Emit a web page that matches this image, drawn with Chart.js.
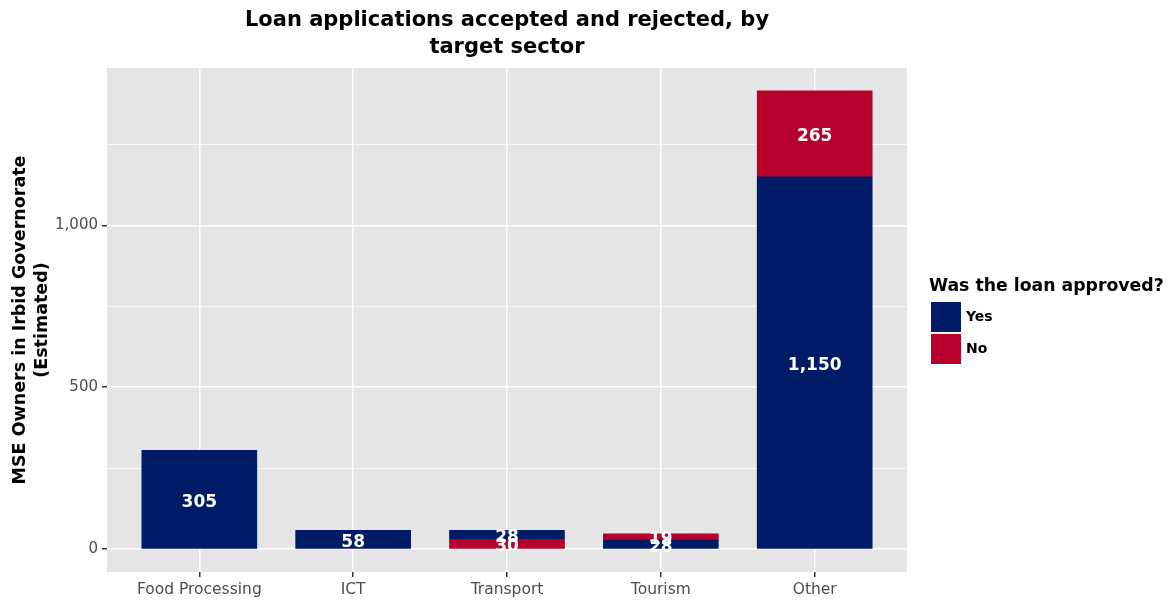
<!DOCTYPE html>
<html>
<head>
<meta charset="utf-8">
<script src="https://cdn.jsdelivr.net/npm/chart.js@4/dist/chart.umd.min.js"></script>
<style>
  html, body { margin: 0; padding: 0; background: #fff; }
  #wrap { width: 1173px; height: 601px; }
</style>
</head>
<body>
<div id="wrap"><canvas id="chart" width="1173" height="601"></canvas></div>
<script>
const categories = ['Food Processing', 'ICT', 'Transport', 'Tourism', 'Other']
const approved = [305, 58, 28, 28, 1150]
const rejected = [null, null, 30, 19, 265]
// in the original the Transport bar has the rejected part at the bottom
const rejectedBelow = [false, false, true, false, false]
const yTicks = [0, 250, 500, 750, 1000, 1250]
const titleLines = ['Loan applications accepted and rejected, by', 'target sector']
const yTitle = ['MSE Owners in Irbid Governorate', '(Estimated)']
const legendTitle = 'Was the loan approved?'

const yesColor = '#001c66'
const noColor = '#b7002c'
const font = 'DejaVu Sans'

function points(values, keep) {
  return values.map((v, i) => ({ x: i + 1, y: keep(i) ? v : null }))
}

const datasets = [
  { label: 'No', data: points(rejected, (i) => rejectedBelow[i]), backgroundColor: noColor, hideInLegend: true },
  { label: 'Yes', data: points(approved, () => true), backgroundColor: yesColor },
  { label: 'No', data: points(rejected, (i) => !rejectedBelow[i]), backgroundColor: noColor },
]

const panelPlugin = {
  id: 'panel',
  beforeDraw(chart) {
    const { ctx, chartArea: a } = chart
    ctx.save()
    ctx.fillStyle = '#fff'
    ctx.fillRect(0, 0, chart.width, chart.height)
    ctx.fillStyle = '#e5e5e5'
    ctx.fillRect(a.left, a.top, a.right - a.left, a.bottom - a.top)
    ctx.restore()
  },
  afterDraw(chart) {
    const { ctx, chartArea: a } = chart
    ctx.save()
    // title, centred over the panel
    ctx.fillStyle = '#000'
    ctx.font = `bold 21px "${font}"`
    ctx.textAlign = 'center'
    ctx.textBaseline = 'middle'
    const cx = (a.left + a.right) / 2
    titleLines.forEach((t, i) => ctx.fillText(t, cx, 21 + i * 27))

    // legend
    ctx.textAlign = 'left'
    ctx.font = `bold 17.3px "${font}"`
    ctx.fillText(legendTitle, 929, 287)
    const items = chart.data.datasets.filter((d) => !d.hideInLegend)
    items.forEach((d, i) => {
      const y = 302 + i * 32
      ctx.fillStyle = d.backgroundColor
      ctx.fillRect(931, y, 30, 30)
      ctx.fillStyle = '#000'
      ctx.font = `bold 14px "${font}"`
      ctx.fillText(d.label, 966, y + 15)
    })
    ctx.restore()
  },
  afterDatasetsDraw(chart) {
    const { ctx } = chart
    ctx.save()
    ctx.fillStyle = '#fff'
    ctx.font = `bold 17px "${font}"`
    ctx.textAlign = 'center'
    ctx.textBaseline = 'middle'
    chart.data.datasets.forEach((ds, di) => {
      const meta = chart.getDatasetMeta(di)
      meta.data.forEach((bar, i) => {
        const v = ds.data[i].y
        if (v == null) return
        ctx.fillText(v.toLocaleString('en-US'), bar.x, (bar.y + bar.base) / 2 + 3)
      })
    })
    ctx.restore()
  },
}

new Chart(document.getElementById('chart'), {
  type: 'bar',
  data: { datasets },
  options: {
    responsive: false,
    animation: false,
    layout: { padding: { top: 68, right: 266, left: 0, bottom: 0 } },
    plugins: { legend: { display: false }, tooltip: { enabled: false } },
    datasets: { bar: { barThickness: 115 } },
    scales: {
      x: {
        type: 'linear',
        stacked: true,
        min: 0.4,
        max: 5.6,
        offset: false,
        border: { display: false },
        afterBuildTicks: (s) => { s.ticks = categories.map((c, i) => ({ value: i + 1 })) },
        afterFit: (s) => { s.height = 29 },
        grid: { offset: false, color: '#fff', lineWidth: 1.5, tickColor: '#333', tickLength: 5 },
        ticks: {
          autoSkip: false,
          maxRotation: 0,
          padding: 4,
          color: '#4d4d4d',
          font: { family: font, size: 15.5 },
          callback: (v) => categories[v - 1],
        },
      },
      y: {
        stacked: true,
        min: -70.75,
        max: 1485.75,
        border: { display: false },
        afterBuildTicks: (s) => { s.ticks = yTicks.map((v) => ({ value: v })) },
        afterFit: (s) => { s.width = 107 },
        grid: {
          color: '#fff',
          lineWidth: (c) => (c.tick && c.tick.value % 500 === 0 ? 1.5 : 0.7),
          tickColor: (c) => (c.tick && c.tick.value % 500 === 0 ? '#333' : 'rgba(0,0,0,0)'),
          tickLength: 5,
        },
        ticks: {
          padding: 4,
          color: '#4d4d4d',
          font: { family: font, size: 15 },
          callback: (v) => (v % 500 === 0 ? v.toLocaleString('en-US') : ''),
        },
        title: {
          display: true,
          text: yTitle,
          color: '#000',
          padding: { top: 9, bottom: 0 },
          font: { family: font, size: 17.5, weight: 'bold', lineHeight: 1.26 },
        },
      },
    },
  },
  plugins: [panelPlugin],
})
</script>
</body>
</html>
